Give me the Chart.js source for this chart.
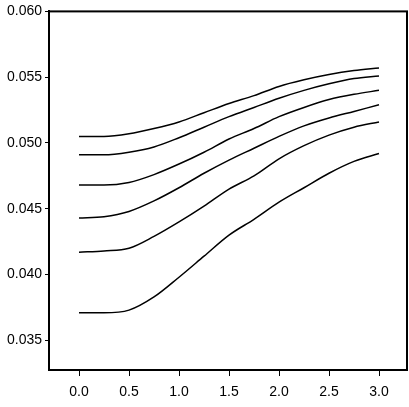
<!DOCTYPE html>
<html>
<head>
<meta charset="utf-8">
<script src="https://cdn.jsdelivr.net/npm/chart.js@4.4.1/dist/chart.umd.min.js"></script>
<style>
  html, body { margin: 0; padding: 0; background: #fff; }
  #wrap { width: 409px; height: 407px; }
</style>
</head>
<body>
<div id="wrap"><canvas id="c" width="409" height="407"></canvas></div>
<script>
const xs = [0, 0.25, 0.5, 0.75, 1.0, 1.25, 1.5, 1.75, 2.0, 2.25, 2.5, 2.75, 3.0];

// six curves, top to bottom
const curve1 = [0.0505, 0.0505, 0.0507, 0.0511, 0.0516, 0.0523, 0.0530, 0.0536, 0.0543, 0.0548, 0.0552, 0.0555, 0.0557];
const curve2 = [0.0491, 0.0491, 0.0493, 0.0497, 0.0504, 0.0512, 0.0520, 0.0527, 0.0534, 0.0540, 0.0545, 0.0549, 0.0551];
const curve3 = [0.0468, 0.0468, 0.0470, 0.0476, 0.0484, 0.0493, 0.0503, 0.0511, 0.0520, 0.0527, 0.0533, 0.0537, 0.0540];
const curve4 = [0.0443, 0.0444, 0.0448, 0.0456, 0.0466, 0.0477, 0.0487, 0.0496, 0.0505, 0.0513, 0.0519, 0.0524, 0.0529];
const curve5 = [0.0417, 0.0418, 0.0420, 0.0429, 0.0440, 0.0452, 0.0465, 0.0475, 0.0488, 0.0498, 0.0506, 0.0512, 0.0516];
const curve6 = [0.0371, 0.0371, 0.0373, 0.0383, 0.0398, 0.0414, 0.0430, 0.0442, 0.0455, 0.0466, 0.0477, 0.0486, 0.0492];

const xTicks = [0, 0.5, 1.0, 1.5, 2.0, 2.5, 3.0];
const yTicks = [0.035, 0.040, 0.045, 0.050, 0.055, 0.060];

const curves = [curve1, curve2, curve3, curve4, curve5, curve6];

// frame around the plot area (top/right edges are not axis lines)
const frame = {
  id: 'frame',
  afterDraw(chart) {
    const { ctx, chartArea: a } = chart;
    ctx.save();
    ctx.strokeStyle = '#000';
    ctx.lineWidth = 2;
    ctx.strokeRect(a.left, a.top, a.right - a.left, a.bottom - a.top);
    ctx.restore();
  },
};

Chart.defaults.font.family = '"Liberation Sans", Arial, sans-serif';
Chart.defaults.font.size = 14;
Chart.defaults.color = '#000';

new Chart(document.getElementById('c'), {
  type: 'line',
  data: {
    datasets: curves.map(vals => ({
      data: vals.map((v, i) => ({ x: xs[i], y: v })),
      borderColor: '#000',
      borderWidth: 1.5,
      pointRadius: 0,
      fill: false,
      cubicInterpolationMode: 'monotone',
    })),
  },
  options: {
    responsive: false,
    animation: false,
    layout: { padding: { top: 7, right: 2, left: 0, bottom: 0 } },
    plugins: { legend: { display: false }, tooltip: { enabled: false } },
    scales: {
      x: {
        type: 'linear',
        min: -0.3,
        max: 3.28,
        afterBuildTicks(s) { s.ticks = xTicks.map(v => ({ value: v })); },
        afterFit(s) { s.height = 37; },
        grid: { drawOnChartArea: false, tickLength: 6, color: '#000', lineWidth: 1 },
        border: { display: true, color: '#000', width: 2 },
        ticks: { padding: 8, maxRotation: 0, callback: v => v.toFixed(1) },
      },
      y: {
        min: 0.03275,
        max: 0.060,
        afterBuildTicks(s) { s.ticks = yTicks.map(v => ({ value: v })); },
        afterFit(s) { s.width = 49; },
        grid: { drawOnChartArea: false, tickLength: 4, color: '#000', lineWidth: 1 },
        border: { display: true, color: '#000', width: 2 },
        ticks: { padding: 3, callback: v => v.toFixed(3) },
      },
    },
  },
  plugins: [frame],
});
</script>
</body>
</html>
